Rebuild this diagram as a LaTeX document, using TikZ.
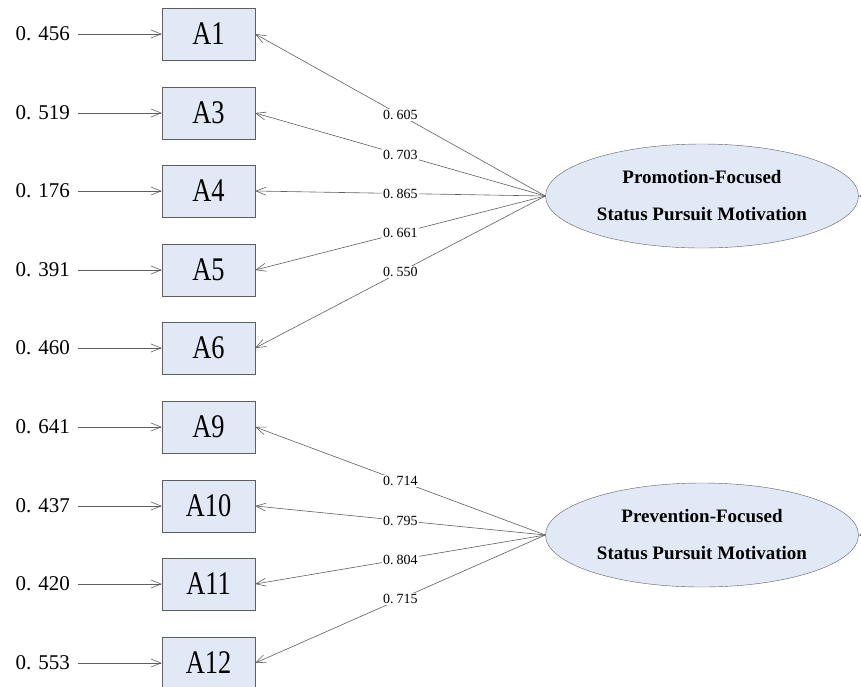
\documentclass[tikz,border=0pt]{standalone}
\usepackage{fontspec}
\setmainfont{Liberation Serif}
\newfontfamily\itemfont[FakeStretch=0.8]{Liberation Serif}
\usetikzlibrary{arrows.meta,shapes.geometric}

\definecolor{boxfill}{RGB}{226,233,246}
\definecolor{linegray}{RGB}{95,95,95}

\tikzset{
  item/.style={draw=linegray,fill=boxfill,minimum width=93pt,minimum height=52pt,inner sep=0pt,
    font=\itemfont\fontsize{33}{33}\selectfont},
  factor/.style={ellipse,draw=linegray,fill=boxfill,minimum width=313pt,minimum height=104pt,inner sep=0pt,
    align=center,font=\fontsize{19}{37}\selectfont\bfseries},
  err/.style={anchor=east,inner sep=0pt,font=\fontsize{21}{21}\selectfont},
  load/.style={fill=white,text=black,inner sep=1pt,font=\fontsize{14}{14}\selectfont},
  arr/.style={draw=linegray,line width=0.6pt,-{Straight Barb[length=10pt,width=8pt]}}
}
\newcommand{\val}[1]{0.\hspace{7pt}#1}
\newcommand{\ld}[1]{0.\hspace{3pt}#1}

\begin{document}
\begin{tikzpicture}[x=1pt,y=-1pt]
    \useasboundingbox (0,0) rectangle (861,686);
    % observed items
    \node[item](a1)at(208.5,34){A1};
    \node[item](a3)at(208.5,113){A3};
    \node[item](a4)at(208.5,191){A4};
    \node[item](a5)at(208.5,270){A5};
    \node[item](a6)at(208.5,348){A6};
    \node[item](a9)at(208.5,427){A9};
    \node[item](a10)at(208.5,506){A10};
    \node[item](a11)at(208.5,584){A11};
    \node[item](a12)at(208.5,663){A12};
    % error values
    \node[err](e1)at(70,34){\val{456}};
    \node[err](e3)at(70,113){\val{519}};
    \node[err](e4)at(70,191){\val{176}};
    \node[err](e5)at(70,270){\val{391}};
    \node[err](e6)at(70,348){\val{460}};
    \node[err](e9)at(70,427){\val{641}};
    \node[err](e10)at(70,506){\val{437}};
    \node[err](e11)at(70,584){\val{420}};
    \node[err](e12)at(70,663){\val{553}};
    \foreach \i in {1,3,4,5,6,9,10,11,12}
        \draw[arr,shorten <=8pt](e\i.east)--(a\i.west);
    % latent factors
    \node[factor](pro)at(702,196){Promotion-Focused\\Status Pursuit Motivation};
    \node[factor](pre)at(702,535){Prevention-Focused\\Status Pursuit Motivation};
    \coordinate(r1)at(885,196);
    \coordinate(r2)at(885,535);
    \draw[arr](r1)--(pro.east);
    \draw[arr](r2)--(pre.east);
    % loadings
    \draw[arr](pro.west)--node[load]{\ld{605}}(a1.east);
    \draw[arr](pro.west)--node[load]{\ld{703}}(a3.east);
    \draw[arr](pro.west)--node[load]{\ld{865}}(a4.east);
    \draw[arr](pro.west)--node[load]{\ld{661}}(a5.east);
    \draw[arr](pro.west)--node[load]{\ld{550}}(a6.east);
    \draw[arr](pre.west)--node[load]{\ld{714}}(a9.east);
    \draw[arr](pre.west)--node[load]{\ld{795}}(a10.east);
    \draw[arr](pre.west)--node[load]{\ld{804}}(a11.east);
    \draw[arr](pre.west)--node[load]{\ld{715}}(a12.east);
\end{tikzpicture}
\end{document}
